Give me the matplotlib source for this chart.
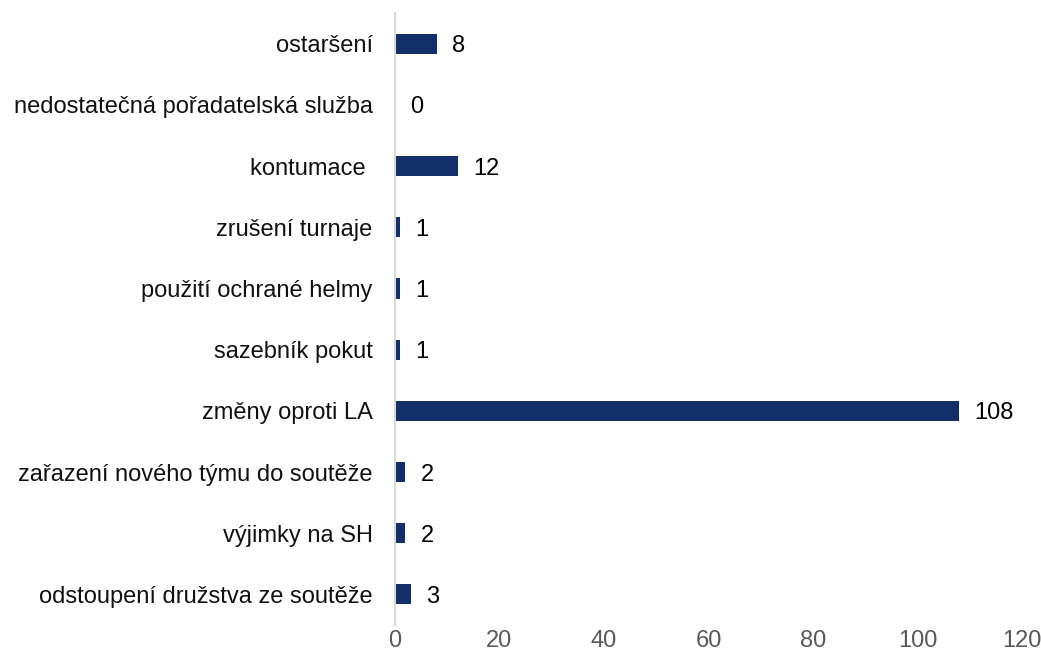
import matplotlib
matplotlib.use("Agg")
import matplotlib.pyplot as plt

categories = [
    "ostaršení",
    "nedostatečná pořadatelská služba",
    "kontumace ",
    "zrušení turnaje",
    "použití ochrané helmy",
    "sazebník pokut",
    "změny oproti LA",
    "zařazení nového týmu do soutěže",
    "výjimky na SH",
    "odstoupení družstva ze soutěže",
]
values = [8, 0, 12, 1, 1, 1, 108, 2, 2, 3]
xticks = [0, 20, 40, 60, 80, 100, 120]

plt.rcParams['font.family'] = ['Liberation Sans', 'DejaVu Sans']

fig = plt.figure(figsize=(10.41, 6.62), dpi=100)
ax = fig.add_axes([0.3794, 0.056, 0.6024, 0.924])

ypos = list(range(len(categories)))
ax.barh(ypos, values, height=0.33, color="#132f69")
for y, v in zip(ypos, values):
    ax.annotate(str(v), xy=(v, y), xytext=(11, 0), textcoords="offset points",
                va="center_baseline", ha="left", fontsize=17, color="#000000")

ax.set_ylim(len(categories) - 0.5, -0.5)
ax.set_xlim(0, 120)
ax.set_yticks(ypos)
ax.set_yticklabels(categories, fontsize=17, color="#111111")
ax.set_xticks(xticks)
ax.set_xticklabels([str(t) for t in xticks], fontsize=17, color="#595959")
ax.tick_params(axis="both", length=0)
ax.tick_params(axis="y", pad=16)
ax.tick_params(axis="x", pad=4)
for s in ["top", "right", "bottom"]:
    ax.spines[s].set_visible(False)
ax.spines["left"].set_color("#d9d9d9")
ax.spines["left"].set_linewidth(1.5)

fig.savefig("out.png", dpi=100)
